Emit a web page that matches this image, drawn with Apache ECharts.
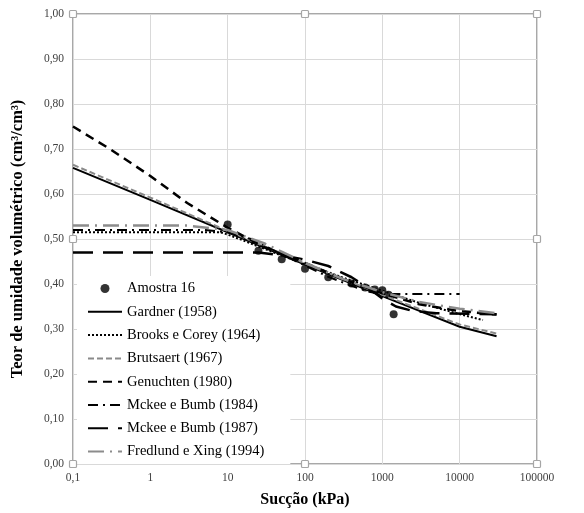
<!DOCTYPE html>
<html>
<head>
<meta charset="utf-8">
<script src="https://cdn.jsdelivr.net/npm/echarts@6/dist/echarts.min.js"></script>
<style>html,body{margin:0;padding:0;background:#fff;}#c{width:584px;height:513px;}</style>
</head>
<body>
<div id="c"></div>
<script>
// ---- data ----
const sampleSuction = [10, 25, 50, 100, 200, 400, 600, 800, 1000, 1200, 1400];
const sampleTheta   = [0.532, 0.474, 0.455, 0.434, 0.415, 0.401, 0.392, 0.388, 0.386, 0.376, 0.333];

const gardnerX = [0.1, 1, 10, 100, 1000, 10000, 30000];
const gardnerY = [0.658, 0.587, 0.515, 0.443, 0.373, 0.305, 0.284];

const brooksX = [0.1, 1, 8, 10, 20, 50, 100, 300, 1000, 3000, 10000, 20000];
const brooksY = [0.515, 0.515, 0.515, 0.51, 0.49, 0.463, 0.445, 0.415, 0.385, 0.358, 0.333, 0.32];

const brutsaertX = [0.1, 1, 10, 100, 1000, 10000, 30000];
const brutsaertY = [0.665, 0.592, 0.518, 0.446, 0.376, 0.31, 0.29];

const genuchtenX = [0.1, 0.3, 1, 3, 10, 30, 100, 300, 1000, 3000, 10000, 30000];
const genuchtenY = [0.75, 0.70, 0.64, 0.58, 0.525, 0.482, 0.447, 0.412, 0.379, 0.355, 0.34, 0.332];

const mckee84X = [0.1, 1, 5, 10, 20, 50, 100, 200, 400, 700, 1000, 10000];
const mckee84Y = [0.52, 0.52, 0.52, 0.515, 0.50, 0.466, 0.441, 0.416, 0.396, 0.382, 0.378, 0.378];

const mckee87X = [0.1, 1, 10, 25, 50, 100, 200, 400, 700, 1000, 1500, 2500, 5000, 30000];
const mckee87Y = [0.47, 0.47, 0.47, 0.47, 0.464, 0.454, 0.44, 0.415, 0.388, 0.368, 0.35, 0.34, 0.335, 0.333];

const fredlundX = [0.1, 1, 3, 10, 30, 100, 300, 1000, 3000, 10000, 30000];
const fredlundY = [0.53, 0.53, 0.53, 0.52, 0.49, 0.447, 0.412, 0.382, 0.36, 0.345, 0.335];

const seriesNames = ['Amostra 16', 'Gardner (1958)', 'Brooks e Corey (1964)', 'Brutsaert (1967)',
  'Genuchten (1980)', 'Mckee e Bumb (1984)', 'Mckee e Bumb (1987)', 'Fredlund e Xing (1994)'];

const xAxisTitle = 'Sucção (kPa)';
const yAxisTitle = 'Teor de umidade volumétrico (cm³/cm³)';

// ---- build ----
const zip = (xs, ys) => xs.map((x, i) => [x, ys[i]]);
const FONT = '"Liberation Serif", "Times New Roman", serif';

const G = { left: 73, right: 47, top: 14, bottom: 49 };
const W = 584, H = 513;
const gx0 = G.left, gx1 = W - G.right, gy0 = G.top, gy1 = H - G.bottom;

function lineSeries(name, data, color, width, type) {
  return {
    name, type: 'line', data, showSymbol: false, symbol: 'none', smooth: false,
    lineStyle: { color, width, type, cap: 'butt', join: 'round' },
    itemStyle: { color },
    emphasis: { disabled: true }, animation: false
  };
}

const handles = [];
[[gx0, gy0], [(gx0 + gx1) / 2, gy0], [gx1, gy0], [gx0, (gy0 + gy1) / 2], [gx1, (gy0 + gy1) / 2],
 [gx0, gy1], [(gx0 + gx1) / 2, gy1], [gx1, gy1]].forEach(p => {
  handles.push({ type: 'rect', shape: { x: p[0] - 3.5, y: p[1] - 3.5, width: 7, height: 7, r: 1 },
    style: { fill: '#fff', stroke: '#a6a6a6', lineWidth: 1.2 }, z: 100 });
});

const chart = echarts.init(document.getElementById('c'), null, { renderer: 'canvas' });
chart.setOption({
  animation: false,
  backgroundColor: '#fff',
  grid: { left: G.left, right: G.right, top: G.top, bottom: G.bottom, show: true,
    borderColor: '#8c8c8c', borderWidth: 1.5, backgroundColor: 'transparent' },
  xAxis: {
    type: 'log', logBase: 10, min: 0.1, max: 100000,
    name: xAxisTitle, nameLocation: 'middle', nameGap: 28,
    nameTextStyle: { fontFamily: FONT, fontWeight: 'bold', fontSize: 16, color: '#000' },
    axisLine: { show: false }, axisTick: { show: false },
    splitLine: { show: true, lineStyle: { color: '#d9d9d9', width: 1 } },
    axisLabel: { fontFamily: FONT, fontSize: 11.5, color: '#404040', margin: 8,
      hideOverlap: false, showMinLabel: true, showMaxLabel: true,
      formatter: v => (v < 0.5 ? '0,1' : String(Math.round(v))) }
  },
  yAxis: {
    type: 'value', min: 0, max: 1, interval: 0.1,
    name: yAxisTitle, nameLocation: 'middle', nameGap: 47, nameRotate: 90,
    nameTextStyle: { fontFamily: FONT, fontWeight: 'bold', fontSize: 16.5, color: '#000' },
    axisLine: { show: false }, axisTick: { show: false },
    splitLine: { show: true, lineStyle: { color: '#d9d9d9', width: 1 } },
    axisLabel: { fontFamily: FONT, fontSize: 11.5, color: '#404040', margin: 9,
      formatter: v => v.toFixed(2).replace('.', ',') }
  },
  legend: {
    orient: 'vertical', left: 77, top: 276,
    backgroundColor: '#fff', padding: [4, 26, 4, 10],
    itemWidth: 34, itemHeight: 9, itemGap: 6.3,
    textStyle: { fontFamily: FONT, fontSize: 14.5, color: '#000', lineHeight: 17 },
    data: seriesNames.map((n, i) => i === 0
      ? { name: n, icon: 'circle', itemStyle: { color: '#000' } }
      : { name: n, itemStyle: { opacity: 0 } }),
    selectedMode: false
  },
  series: [
    { name: seriesNames[0], type: 'scatter', data: zip(sampleSuction, sampleTheta), symbol: 'circle',
      symbolSize: 8, itemStyle: { color: '#000' }, emphasis: { disabled: true } },
    lineSeries(seriesNames[1], zip(gardnerX, gardnerY), '#000', 2, 'solid'),
    lineSeries(seriesNames[2], zip(brooksX, brooksY), '#000', 2, [2, 2]),
    lineSeries(seriesNames[3], zip(brutsaertX, brutsaertY), '#8a8a8a', 2, [6, 3]),
    lineSeries(seriesNames[4], zip(genuchtenX, genuchtenY), '#000', 2.5, [9, 6]),
    lineSeries(seriesNames[5], zip(mckee84X, mckee84Y), '#000', 2, [10, 5, 2, 5]),
    lineSeries(seriesNames[6], zip(mckee87X, mckee87Y), '#000', 2.5, [20, 10]),
    lineSeries(seriesNames[7], zip(fredlundX, fredlundY), '#8c8c8c', 2.5, [16, 6, 2, 6])
  ],
  graphic: handles
});
</script>
</body>
</html>
